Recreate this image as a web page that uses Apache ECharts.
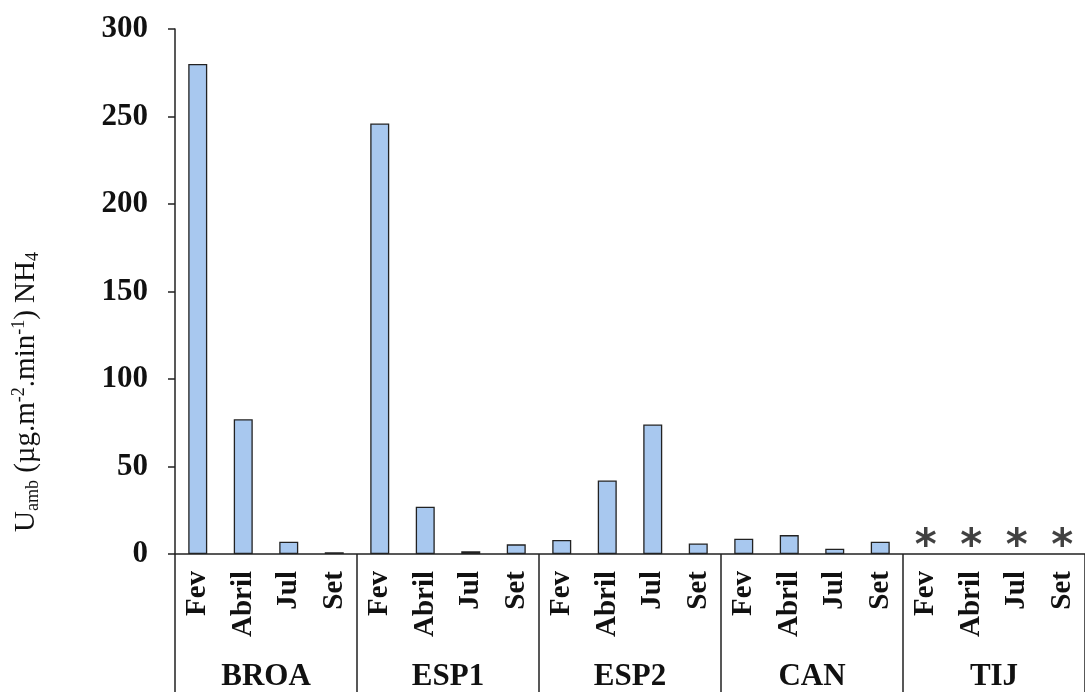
<!DOCTYPE html>
<html>
<head>
<meta charset="utf-8">
<script src="https://cdn.jsdelivr.net/npm/echarts@6/dist/echarts.min.js"></script>
<style>
html,body{margin:0;padding:0;background:#fff;}
#chart{width:1085px;height:692px;}
</style>
</head>
<body>
<div id="chart"></div>
<script>
// ---- data ----
const groups = ['BROA', 'ESP1', 'ESP2', 'CAN', 'TIJ'];
const months = ['Fev', 'Abril', 'Jul', 'Set'];
const broa = [280, 77, 7, 1];
const esp1 = [246, 27, 1.5, 5.5];
const esp2 = [8, 42, 74, 6];
const can = [8.7, 10.8, 3, 7];
const tij = [null, null, null, null];   // no data, marked with *
const tijMarkers = ['*', '*', '*', '*'];
const yTicks = [0, 50, 100, 150, 200, 250, 300];

// ---- build ----
const categories = [];
groups.forEach(g => months.forEach(m => categories.push(m)));
const values = [].concat(broa, esp1, esp2, can, tij);
const markerData = [];
tijMarkers.forEach((t, i) => {
  markerData.push({ value: [16 + i, 0], label: { formatter: t } });
});

const serif = "'Liberation Serif','Times New Roman',serif";
const chart = echarts.init(document.getElementById('chart'), null, { renderer: 'canvas' });
chart.setOption({
  backgroundColor: '#ffffff',
  animation: false,
  grid: { left: 175, width: 912, top: 29, bottom: 136, containLabel: false },
  xAxis: [
    {
      type: 'category',
      data: categories,
      position: 'bottom',
      axisLine: { show: true, lineStyle: { color: '#222', width: 1.5 } },
      axisTick: { show: false },
      axisLabel: {
        interval: 0, rotate: 90, margin: 17,
        fontFamily: serif, fontWeight: 'bold', fontSize: 29, color: '#111'
      }
    },
    {
      type: 'category',
      data: groups,
      position: 'bottom',
      gridIndex: 0,
      axisLine: { show: false },
      axisTick: { show: true, length: 140, interval: 0, lineStyle: { color: '#222', width: 1.5 } },
      axisLabel: {
        interval: 0, margin: 107,
        fontFamily: serif, fontWeight: 'bold', fontSize: 31, color: '#111'
      }
    }
  ],
  yAxis: {
    type: 'value',
    min: yTicks[0], max: yTicks[yTicks.length - 1], interval: 50,
    axisLine: { show: true, lineStyle: { color: '#222', width: 1.5 } },
    axisTick: { show: true, length: 7, lineStyle: { color: '#222', width: 1.5 } },
    splitLine: { show: false },
    axisLabel: {
      margin: 27,
      fontFamily: serif, fontWeight: 'bold', fontSize: 31, color: '#111'
    }
  },
  series: [
    {
      type: 'bar',
      xAxisIndex: 0,
      data: values,
      barWidth: 19,
      itemStyle: { color: '#a8c8ef', borderColor: '#222', borderWidth: 1.3 }
    },
    {
      type: 'scatter',
      xAxisIndex: 0,
      data: markerData,
      symbolSize: 1,
      itemStyle: { color: 'rgba(0,0,0,0)' },
      label: {
        show: true, position: 'inside', offset: [0, -6],
        fontFamily: "'DejaVu Sans',sans-serif", fontWeight: 'bold', fontSize: 42, color: '#111'
      }
    }
  ],
  graphic: [
    {
      type: 'text',
      x: 26, y: 392,
      rotation: Math.PI / 2,
      style: {
        text: '{b|U}{s|amb}{b| (µg.m}{p|-2}{b|.min}{p|-1}{b|) NH}{s|4}',
        align: 'center',
        verticalAlign: 'middle',
        fill: '#111',
        rich: {
          b: { fontFamily: serif, fontSize: 29, lineHeight: 32, fill: '#111' },
          s: { fontFamily: serif, fontSize: 18, lineHeight: 18, verticalAlign: 'bottom', fill: '#111' },
          p: { fontFamily: serif, fontSize: 18, lineHeight: 18, verticalAlign: 'top', fill: '#111' }
        }
      }
    }
  ]
});
</script>
</body>
</html>
